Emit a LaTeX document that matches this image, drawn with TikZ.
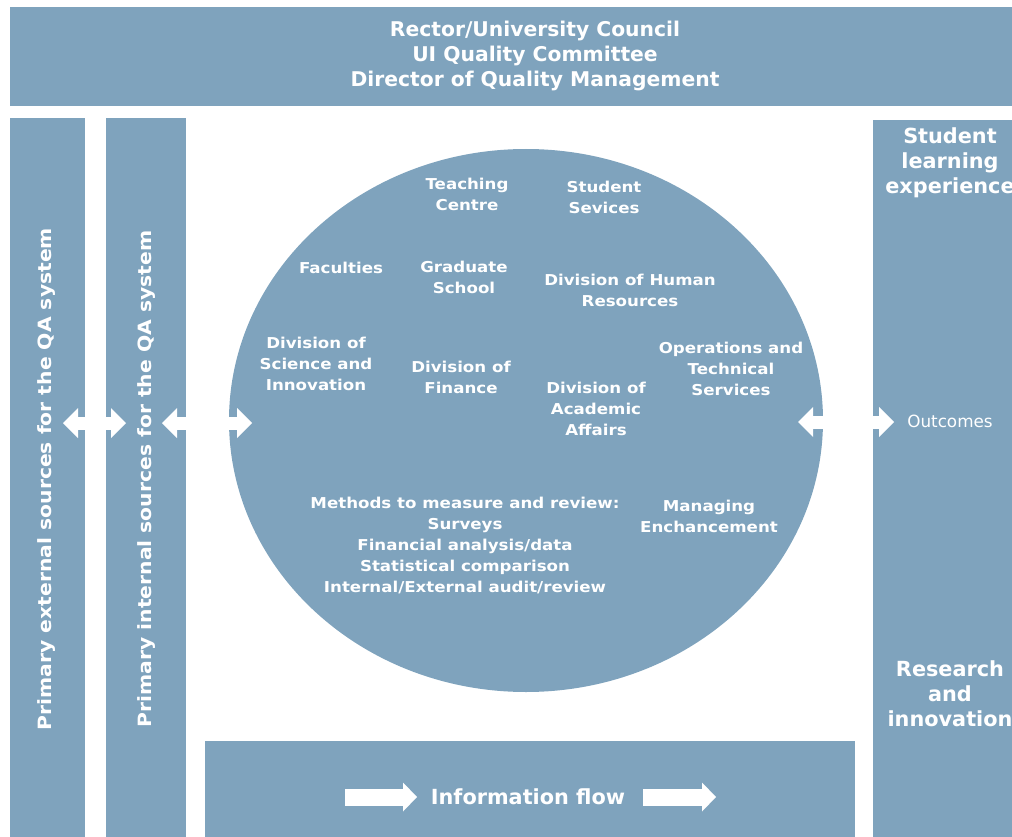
\documentclass[tikz,border=0pt]{standalone}
\usepackage{fontspec}
\setmainfont{DejaVu Sans}
\newfontfamily\widefont{DejaVu Sans}[FakeStretch=1.11]
\usetikzlibrary{shapes.geometric}
\usetikzlibrary{arrows.meta}
\definecolor{qablue}{RGB}{127,163,189}

\begin{document}
\begin{tikzpicture}[x=1pt,y=-1pt,font=\widefont\bfseries\fontsize{15}{21}\selectfont,
  panel/.style={fill=qablue,draw=none,inner sep=0pt,anchor=north west},
  lbl/.style={text=white,align=center,inner sep=0pt},
  twoway/.style={draw=white,line width=13pt,{Triangle[width=30pt,length=15pt,line width'=0pt]}-{Triangle[width=30pt,length=15pt,line width'=0pt]}},
  oneway/.style={draw=white,line width=17pt,-{Triangle[width=29pt,length=14pt,line width'=0pt]}}]
\clip (0,0) rectangle (1012,837);
\path (10,7) node(board_0) [panel,minimum width=1010pt,minimum height=99pt] {};
\path (10,118) node(ext_0) [panel,minimum width=75pt,minimum height=730pt] {};
\path (106,118) node(int_0) [panel,minimum width=80pt,minimum height=730pt] {};
\path (873,120) node(out_0) [panel,minimum width=150pt,minimum height=730pt] {};
\path (205,741) node(info_0) [panel,minimum width=650pt,minimum height=110pt] {};
\path (526,420.5) node(core_0) [ellipse,fill=qablue,inner sep=0pt,minimum width=594pt,minimum height=543pt] {};
\path (535,56) node(board_1) [lbl,font=\rmfamily\bfseries\fontsize{20.3}{25}\selectfont] {Rector/University Council\\UI Quality Committee\\Director of Quality Management};
\path (47,479) node(ext_1) [lbl,rotate=90,font=\widefont\bfseries\fontsize{18.3}{22}\selectfont] {Primary external sources for the QA system};
\path (147,479) node(int_1) [lbl,rotate=90,font=\widefont\bfseries\fontsize{18.3}{22}\selectfont] {Primary internal sources for the QA system};
\path (950,163) node(out_1) [lbl,font=\rmfamily\bfseries\fontsize{20.8}{25}\selectfont] {Student\\learning\\experience};
\path (950,421) node(out_2) [lbl,font=\rmfamily\mdseries\fontsize{16.8}{20}\selectfont] {Outcomes};
\path (950,694) node(out_3) [lbl,font=\rmfamily\bfseries\fontsize{20.8}{25}\selectfont] {Research\\and\\innovation};
\path (528,797) node(info_1) [lbl,font=\rmfamily\bfseries\fontsize{20.8}{24}\selectfont] {Information flow};
\path (467,194.5) node(unit_0) [lbl] {Teaching\\Centre};
\path (604,197) node(unit_1) [lbl] {Student\\Sevices};
\path (341,268) node(unit_2) [lbl] {Faculties};
\path (464,277.5) node(unit_3) [lbl] {Graduate\\School};
\path (630,290.5) node(unit_4) [lbl] {Division of Human\\Resources};
\path (316,364) node(unit_5) [lbl] {Division of\\Science and\\Innovation};
\path (461,377) node(unit_6) [lbl] {Division of\\Finance};
\path (596,409) node(unit_7) [lbl] {Division of\\Academic\\Affairs};
\path (731,369) node(unit_8) [lbl] {Operations and\\Technical\\Services};
\path (465,545) node(unit_9) [lbl] {Methods to measure and review:\\Surveys\\Financial analysis/data\\Statistical comparison\\Internal/External audit/review};
\path (709,516.5) node(unit_10) [lbl] {Managing\\Enchancement};
\coordinate (e_0) at (63,423);
\coordinate (e_1) at (126,423);
\coordinate (i_0) at (162,423);
\coordinate (i_1) at (252,423);
\coordinate (o_0) at (798,422);
\coordinate (o_1) at (894,422);
\coordinate (f_0) at (345,797);
\coordinate (f_1) at (417,797);
\coordinate (f_2) at (643,797);
\coordinate (f_3) at (716,797);
\draw[twoway] (e_0) -- (e_1);
\draw[twoway] (i_0) -- (i_1);
\draw[twoway] (o_0) -- (o_1);
\draw[oneway] (f_0) -- (f_1);
\draw[oneway] (f_2) -- (f_3);
\end{tikzpicture}
\end{document}
